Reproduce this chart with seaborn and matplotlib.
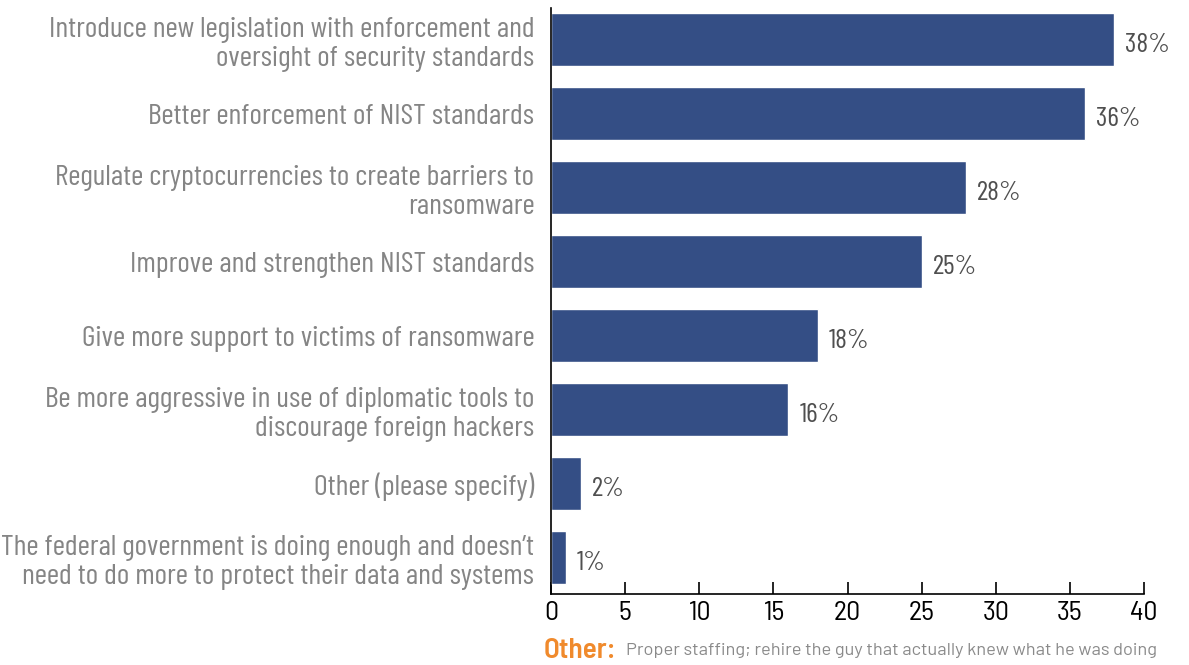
import matplotlib
matplotlib.use("Agg")
import matplotlib.pyplot as plt
import seaborn as sns
import pandas as pd

categories = [
    "Introduce new legislation with enforcement and\noversight of security standards",
    "Better enforcement of NIST standards",
    "Regulate cryptocurrencies to create barriers to\nransomware",
    "Improve and strengthen NIST standards",
    "Give more support to victims of ransomware",
    "Be more aggressive in use of diplomatic tools to\ndiscourage foreign hackers",
    "Other (please specify)",
    "The federal government is doing enough and doesn\u2019t\nneed to do more to protect their data and systems",
]
values = [38, 36, 28, 25, 18, 16, 2, 1]
x_ticks = [0, 5, 10, 15, 20, 25, 30, 35, 40]
other_note = "Proper staffing; rehire the guy that actually knew what he was doing"

sns.set_theme(style="white")
COND = ["Barlow Condensed", "DejaVu Sans"]
SEMI = ["Barlow Semi Condensed", "DejaVu Sans"]
WIDE = ["Barlow", "DejaVu Sans"]
plt.rcParams["font.family"] = COND

df = pd.DataFrame({"category": categories, "value": values})

fig = plt.figure(figsize=(11.89, 6.65), dpi=100)
ax = fig.add_axes([551 / 1189, 1 - 594 / 665, (1144 - 551) / 1189, (594 - 8) / 665])

sns.barplot(data=df, x="value", y="category", orient="h", color="#344E85",
            saturation=1, width=0.72, ax=ax)

ax.set_xlim(0, 40)
ax.set_ylim(7.49, -0.43)
ax.set_xticks(x_ticks)
ax.set_xticklabels([str(t) for t in x_ticks], fontsize=20, color="black",
                   family=SEMI, fontweight="normal")
ax.tick_params(axis="x", direction="in", length=9, width=1.2, color="black", pad=5, bottom=True)
ax.tick_params(axis="y", length=0, pad=12)
for lbl in ax.get_yticklabels():
    lbl.set_fontsize(21.5)
    lbl.set_color("#858585")
    lbl.set_multialignment("right")
    lbl.set_linespacing(1.15)
ax.set_xlabel("")
ax.set_ylabel("")

for side in ["top", "right"]:
    ax.spines[side].set_visible(False)
for side in ["left", "bottom"]:
    ax.spines[side].set_color("black")
    ax.spines[side].set_linewidth(1.2)

for i, v in enumerate(values):
    ax.text(v + 0.75, i + 0.07, f"{v}%", va="center", ha="left", fontsize=20, color="#4F4F4F")

fig.text(544 / 1189, 1 - 650 / 665, "Other:", fontsize=21, color="#F08A2C",
         fontweight="semibold", va="center", ha="left", family=SEMI)
fig.text(626 / 1189, 1 - 651 / 665, other_note, fontsize=13.1, color="#8A8A8A",
         va="center", ha="left", family=WIDE)

fig.savefig("out.png", dpi=100)
